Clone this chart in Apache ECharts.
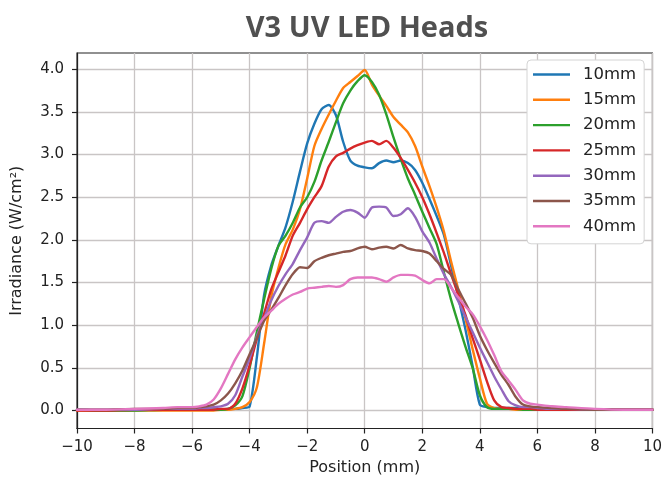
<!DOCTYPE html>
<html>
<head>
<meta charset="utf-8">
<script src="https://cdn.jsdelivr.net/npm/echarts@6.0.0/dist/echarts.min.js"></script>
<style>
html,body{margin:0;padding:0;background:#fff;}
#chart{width:665px;height:481px;}
</style>
</head>
<body>
<div id="chart"></div>
<script>
// Position (mm) sample points shared by all series
const positions = [-10,-9,-8,-7,-6.5,-6,-5.75,-5.5,-5.25,-5,-4.75,-4.5,-4.25,-4,-3.75,-3.5,-3.25,-3,-2.75,-2.5,-2.25,-2,-1.75,-1.5,-1.25,-1,-0.75,-0.5,-0.25,0,0.25,0.5,0.75,1,1.25,1.5,1.75,2,2.25,2.5,2.75,3,3.25,3.5,3.75,4,4.25,4.5,4.75,5,5.25,5.5,5.75,6,6.5,7,8,9,10];

const seriesNames = ['10mm','15mm','20mm','25mm','30mm','35mm','40mm'];

const irr10 = [0.01,0.0,0.01,0.01,0.01,0.01, 0.01,0.01,0.01,0.01,0.02,0.02,0.03, 0.05,0.62,1.35,1.7,1.93,2.15,2.45,2.8, 3.13,3.36,3.53,3.58,3.46,3.15,2.93,2.87, 2.85,2.84,2.9,2.93,2.91,2.93,2.9,2.82, 2.67,2.48,2.28,2.06,1.7,1.33,0.95,0.52, 0.07,0.04,0.03,0.03,0.03,0.03,0.02,0.02, 0.02,0.02,0.01,0.01,0.01,0.01];
const irr15 = [0,0,0,0,0,0, 0,0,0,0.01,0.01,0.02,0.04, 0.1,0.27,0.78,1.33,1.67,1.95,2.12,2.36, 2.72,3.1,3.3,3.47,3.63,3.78,3.85,3.92, 3.99,3.82,3.69,3.57,3.44,3.35,3.26,3.1, 2.86,2.63,2.38,2.1,1.75,1.42,1.08,0.72, 0.38,0.08,0.03,0.02,0.02,0.01,0.01,0.01, 0.01,0.01,0.01,0.01,0.01,0.01];
const irr20 = [0.01,0.0,0.0,0.01,0.01,0.01, 0.01,0.01,0.01,0.01,0.02,0.06,0.17, 0.5,0.92,1.3,1.66,1.93,2.05,2.2,2.38, 2.5,2.68,2.93,3.15,3.38,3.6,3.75,3.86, 3.93,3.85,3.7,3.47,3.2,2.95,2.72,2.53, 2.33,2.14,1.95,1.62,1.3,1.02,0.75,0.5, 0.18,0.04,0.02,0.02,0.02,0.02,0.01,0.01, 0.01,0.01,0.01,0.01,0.01,0.01];
const irr25 = [0.0,0.0,0.01,0.01,0.01,0.01, 0.01,0.01,0.01,0.02,0.02,0.08,0.26, 0.53,0.84,1.13,1.42,1.62,1.82,2.05,2.2, 2.36,2.5,2.63,2.86,2.98,3.02,3.07,3.11, 3.14,3.16,3.12,3.16,3.08,2.96,2.82,2.67, 2.5,2.3,2.08,1.85,1.6,1.36,1.12,0.85, 0.6,0.34,0.12,0.04,0.03,0.02,0.02,0.02, 0.01,0.01,0.01,0.01,0.01,0.01];
const irr30 = [0.01,0.01,0.01,0.02,0.02,0.02, 0.03,0.03,0.04,0.05,0.08,0.18,0.4, 0.61,0.87,1.08,1.29,1.46,1.6,1.72,1.88, 2.03,2.2,2.22,2.2,2.27,2.33,2.35,2.32, 2.26,2.38,2.39,2.38,2.28,2.3,2.37,2.27, 2.1,1.97,1.78,1.6,1.45,1.28,1.1,0.92, 0.74,0.57,0.4,0.25,0.11,0.06,0.04,0.04, 0.03,0.02,0.02,0.01,0.01,0.01];
const irr35 = [0.01,0.01,0.02,0.02,0.03,0.03, 0.04,0.05,0.07,0.12,0.2,0.32,0.47, 0.66,0.85,1.05,1.18,1.32,1.47,1.6,1.68, 1.67,1.75,1.79,1.82,1.84,1.86,1.87,1.9, 1.92,1.89,1.91,1.92,1.9,1.94,1.9,1.88, 1.87,1.84,1.75,1.66,1.59,1.42,1.26,1.09, 0.88,0.71,0.56,0.42,0.3,0.16,0.07,0.05, 0.04,0.03,0.02,0.01,0.01,0.01];
const irr40 = [0.01,0.01,0.02,0.03,0.04,0.04, 0.05,0.07,0.13,0.26,0.43,0.6,0.74, 0.86,0.98,1.09,1.17,1.25,1.31,1.36,1.39, 1.43,1.44,1.45,1.46,1.45,1.47,1.54,1.56, 1.56,1.56,1.54,1.51,1.56,1.59,1.59,1.58, 1.53,1.49,1.54,1.54,1.44,1.33,1.22,1.13, 0.99,0.83,0.65,0.46,0.35,0.24,0.12,0.08, 0.07,0.05,0.04,0.02,0.01,0.01];

const xTicks = [-10,-8,-6,-4,-2,0,2,4,6,8,10];
const yTicks = [0,0.5,1,1.5,2,2.5,3,3.5,4];

const colors = ['#1f77b4','#ff7f0e','#2ca02c','#d62728','#9467bd','#8c564b','#e377c2'];
const allValues = [irr10, irr15, irr20, irr25, irr30, irr35, irr40];

const chart = echarts.init(document.getElementById('chart'), null, {renderer:'canvas'});
const fmtX = v => (v < 0 ? '\u2212' + Math.abs(v) : String(v));

const option = {
  animation: false,
  backgroundColor: '#ffffff',
  title: {
    text: 'V3 UV LED Heads',
    left: 362, top: 9, textAlign: 'center',
    textStyle: {fontFamily: 'Open Sans', fontWeight: 'bold', fontSize: 29, color: '#505050'}
  },
  legend: {
    data: seriesNames,
    orient: 'vertical',
    left: 527, top: 60,
    backgroundColor: '#ffffff',
    borderColor: '#d4d4d4', borderWidth: 1, borderRadius: 4,
    padding: [6, 8, 9, 6],
    itemWidth: 37, itemHeight: 14, itemGap: 8.3,
    icon: 'path://M0,0L37,0L37,2.4L0,2.4Z',
    textStyle: {fontFamily: 'DejaVu Sans', fontSize: 16.5, color: '#222', padding: [0,0,0,8]}
  },
  grid: {
    left: 77, right: 10, top: 53, bottom: 52.5,
    show: true, borderColor: '#222', borderWidth: 1.2, backgroundColor: 'transparent'
  },
  xAxis: {
    type: 'value', min: -10, max: 10, interval: 2,
    name: 'Position (mm)', nameLocation: 'middle', nameGap: 31,
    nameTextStyle: {fontFamily: 'DejaVu Sans', fontSize: 16, color: '#222'},
    axisLine: {show: true, onZero: false, lineStyle: {color: '#222', width: 1.2}},
    axisTick: {show: true, inside: false, length: 5, lineStyle: {color: '#222', width: 1.2}},
    axisLabel: {fontFamily: 'DejaVu Sans', fontSize: 15, color: '#222', margin: 11, formatter: fmtX},
    splitLine: {show: true, lineStyle: {color: '#c9c5c5', width: 1.3}}
  },
  yAxis: {
    type: 'value', min: -0.21, max: 4.19,
    name: 'Irradiance (W/cm²)', nameLocation: 'middle', nameGap: 52, nameRotate: 90,
    nameTextStyle: {fontFamily: 'DejaVu Sans', fontSize: 16, color: '#222'},
    axisLine: {show: true, onZero: false, lineStyle: {color: '#222', width: 1.2}},
    axisTick: {show: true, inside: false, length: 5, customValues: yTicks, lineStyle: {color: '#222', width: 1.2}},
    axisLabel: {fontFamily: 'DejaVu Sans', fontSize: 15, color: '#222', margin: 13, customValues: yTicks,
      formatter: v => v.toFixed(1)},
    splitLine: {show: true, lineStyle: {color: '#c9c5c5', width: 1.3}}
  },
  series: seriesNames.map((name, k) => ({
    name: name,
    type: 'line',
    symbol: 'none',
    showSymbol: false,
    smooth: 0.25,
    color: colors[k],
    itemStyle: {color: colors[k]},
    lineStyle: {width: 2.4, color: colors[k], join: 'round', cap: 'round'},
    data: positions.map((x, i) => [x, allValues[k][i]])
  }))
};
chart.setOption(option);
</script>
</body>
</html>
